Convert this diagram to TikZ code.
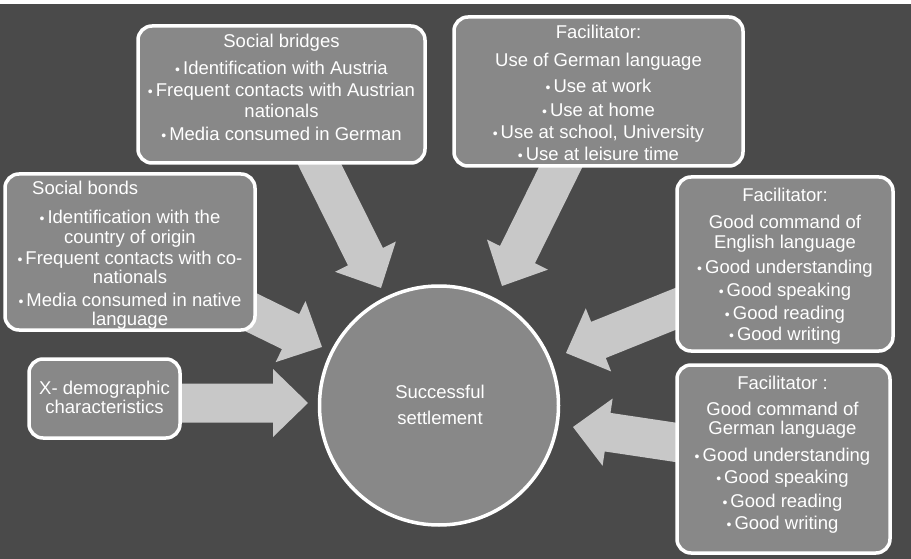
\documentclass[tikz,border=0pt]{standalone}
\usepackage{fontspec}
\setmainfont{Liberation Sans}
\usetikzlibrary{calc}
\definecolor{bgc}{HTML}{4A4A4A}
\definecolor{boxfill}{HTML}{888888}
\definecolor{arrowfill}{HTML}{C8C8C8}
\newcommand{\bu}{{\fontsize{14}{14}\selectfont •}\hspace{3pt}}
\newcommand{\blockarrow}[3]{%
  \coordinate (#1h) at ($(#3)!35pt!(#2)$);
  \fill[arrowfill] ($(#2)!19.5pt!90:(#3)$) -- ($(#1h)!19.5pt!-90:(#2)$) -- ($(#1h)!34pt!-90:(#2)$) -- (#3) -- ($(#1h)!34pt!90:(#2)$) -- ($(#1h)!19.5pt!90:(#2)$) -- ($(#2)!19.5pt!-90:(#3)$) -- cycle;
}
\tikzset{
  box/.style={draw=white, line width=3.5pt, fill=boxfill, rounded corners=14pt, rectangle, inner sep=0pt},
  hub/.style={draw=white, line width=3.5pt, fill=boxfill, circle, inner sep=0pt, minimum size=239pt},
  txt/.style={text=white, align=center, inner sep=0pt, font=\fontsize{18.5}{20.5}\selectfont},
}
\begin{document}
\begin{tikzpicture}[x=1pt, y=-1pt]
\useasboundingbox (0,0) rectangle (911,559);
\fill[bgc] (0,0) rectangle (911,559);
\fill[white] (0,0) rectangle (911,4.5);
% arrows
\coordinate (a1s) at (305,135); \coordinate (a1e) at (381,288);
\coordinate (a2s) at (574,140); \coordinate (a2e) at (502,286);
\coordinate (a3s) at (700,299); \coordinate (a3e) at (566,353);
\coordinate (a4s) at (700,446); \coordinate (a4e) at (573,427);
\coordinate (a5s) at (170,403); \coordinate (a5e) at (308,403);
\coordinate (a6s) at (230,302); \coordinate (a6e) at (322,347);
\blockarrow{a1}{a1s}{a1e}
\blockarrow{a2}{a2s}{a2e}
\blockarrow{a3}{a3s}{a3e}
\blockarrow{a4}{a4s}{a4e}
\blockarrow{a5}{a5s}{a5e}
\blockarrow{a6}{a6s}{a6e}
% boxes
\node[box, minimum width=287pt, minimum height=137pt] (sb) at (281.5,94.5) {};
\node[box, minimum width=289pt, minimum height=149pt] (fg) at (598.5,91.5) {};
\node[box, minimum width=250pt, minimum height=156pt] (bo) at (130,252) {};
\node[box, minimum width=151pt, minimum height=79pt] (xd) at (104.5,398.5) {};
\node[box, minimum width=216pt, minimum height=174pt] (fe) at (785,264) {};
\node[box, minimum width=213pt, minimum height=188pt] (fc) at (783.5,459) {};
\node[hub] (ss) at (439,405.5) {};
% texts
\node[txt, anchor=north] (sbt) at (281.5,34) {Social bridges\\[6.5pt]\bu Identification with Austria\\[1.5pt]\bu Frequent contacts with Austrian\\nationals\\[2.5pt]\bu Media consumed in German};
\node[txt, anchor=north] (fgt) at (598.5,25) {Facilitator:\\[7.5pt]Use of German language\\[5.5pt]\bu Use at work\\[3.5pt]\bu Use at home\\[1.5pt]\bu Use at school, University\\[1.5pt]\bu Use at leisure time};
\node[txt, anchor=base west] (bot1) at (32,194) {Social bonds};
\node[txt, anchor=north] (bot2) at (130,210) {\bu Identification with the\\[-0.5pt]country of origin\\[0.5pt]\bu Frequent contacts with co-\\[-1.5pt]nationals\\[2.5pt]\bu Media consumed in native\\[-1.5pt]language};
\node[txt, anchor=north] (xdt) at (104.5,381) {X- demographic\\[-1.5pt]characteristics};
\node[txt, anchor=north] (fet) at (785,188) {Facilitator:\\[6.5pt]Good command of\\[-0.5pt]English language\\[4.5pt]\bu Good understanding\\[2.5pt]\bu Good speaking\\[2.5pt]\bu Good reading\\[0.5pt]\bu Good writing};
\node[txt, anchor=north] (fct) at (782.5,376) {Facilitator :\\[5.5pt]Good command of\\[-1.5pt]German language\\[6.5pt]\bu Good understanding\\[1.5pt]\bu Good speaking\\[3.5pt]\bu Good reading\\[1.5pt]\bu Good writing};
\node[txt, anchor=north] (sst) at (440,385) {Successful\\[5.5pt]settlement};
\end{tikzpicture}
\end{document}
